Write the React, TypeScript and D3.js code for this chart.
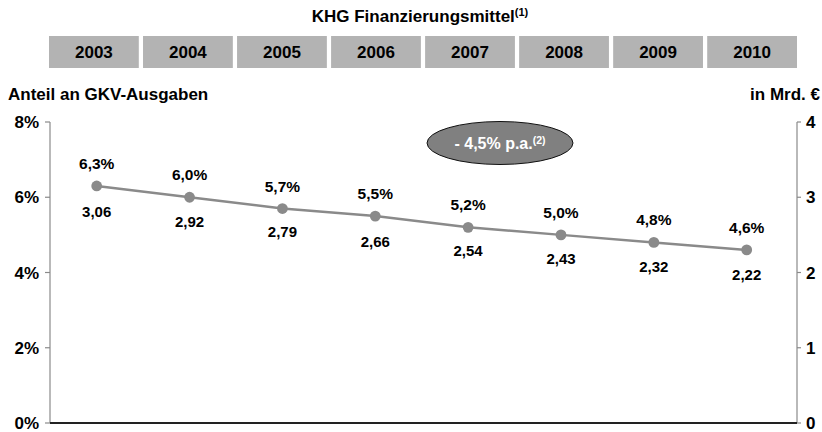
import * as d3 from 'd3';

const years = ['2003', '2004', '2005', '2006', '2007', '2008', '2009', '2010'];
const shares = [6.3, 6.0, 5.7, 5.5, 5.2, 5.0, 4.8, 4.6];
const amounts = [3.06, 2.92, 2.79, 2.66, 2.54, 2.43, 2.32, 2.22];
const leftTicks = [0, 2, 4, 6, 8];
const rightTicks = [0, 1, 2, 3, 4];

const W = 822;
const H = 432;
const FONT = '"Liberation Sans", Arial, Helvetica, sans-serif';
const GREY = '#8a8a8a';

export default function App() {
  // scales
  const boxX = d3.scaleBand().domain(years).range([49, 797]).paddingInner(0.045);
  const x = d3.scalePoint().domain(years).range([96.7, 746.7]);
  const yL = d3.scaleLinear().domain([0, 8]).range([423, 122]);
  const yR = d3.scaleLinear().domain([0, 4]).range([423, 122]);

  const pts = years.map((yr, i) => ({ yr, s: shares[i], a: amounts[i] }));
  const line = d3.line<typeof pts[0]>()
    .x(d => x(d.yr)!)
    .y(d => yL(d.s));

  const fmt = (v: number, n: number) => v.toFixed(n).replace('.', ',');

  return (
    <svg width={W} height={H} style={{ position: 'absolute', left: 0, top: 0 }}
      fontFamily={FONT} fontWeight="bold">
      {/* title */}
      <text x={420} y={22} textAnchor="middle" fontSize={17}>
        KHG Finanzierungsmittel
        <tspan fontSize={11} dy={-6}>(1)</tspan>
      </text>

      {/* year boxes */}
      {years.map(yr => (
        <g key={yr}>
          <rect x={boxX(yr)} y={36} width={boxX.bandwidth()} height={32} fill="#b3b3b3" />
          <text x={boxX(yr)! + boxX.bandwidth() / 2} y={58} textAnchor="middle" fontSize={17}>{yr}</text>
        </g>
      ))}

      {/* axis titles */}
      <text x={8} y={100} fontSize={17}>Anteil an GKV-Ausgaben</text>
      <text x={820} y={100} fontSize={17} textAnchor="end">in Mrd. €</text>

      {/* left axis */}
      <line x1={50} x2={50} y1={yL(8)} y2={yL(0)} stroke={GREY} strokeWidth={1.2} />
      {leftTicks.map(t => (
        <g key={t}>
          <line x1={45} x2={50} y1={yL(t)} y2={yL(t)} stroke={GREY} strokeWidth={1.2} />
          <text x={39} y={yL(t) + 6} textAnchor="end" fontSize={17}>{t}%</text>
        </g>
      ))}

      {/* right axis */}
      <line x1={797} x2={797} y1={yR(4)} y2={yR(0)} stroke={GREY} strokeWidth={1.2} />
      {rightTicks.map(t => (
        <g key={t}>
          <line x1={797} x2={801} y1={yR(t)} y2={yR(t)} stroke={GREY} strokeWidth={1.2} />
          <text x={806} y={yR(t) + 6} fontSize={17}>{t}</text>
        </g>
      ))}

      {/* baseline */}
      <line x1={50} x2={797} y1={yL(0)} y2={yL(0)} stroke="#222" strokeWidth={2} />

      {/* line + dots */}
      <path d={line(pts)!} fill="none" stroke={GREY} strokeWidth={2.5} />
      {pts.map(d => (
        <g key={d.yr}>
          <circle cx={x(d.yr)} cy={yL(d.s)} r={5.4} fill={GREY} />
          <text x={x(d.yr)} y={yL(d.s) - 17} textAnchor="middle" fontSize={15.5}>{fmt(d.s, 1)}%</text>
          <text x={x(d.yr)} y={yR(d.a) + 24} textAnchor="middle" fontSize={15}>{fmt(d.a, 2)}</text>
        </g>
      ))}

      {/* CAGR bubble */}
      <ellipse cx={500} cy={143} rx={73} ry={21.5} fill="#808080" stroke="#111" strokeWidth={1} />
      <text x={500} y={149} textAnchor="middle" fontSize={16} fill="#fff">
        - 4,5% p.a.
        <tspan fontSize={10.5} dy={-5}>(2)</tspan>
      </text>
    </svg>
  );
}
